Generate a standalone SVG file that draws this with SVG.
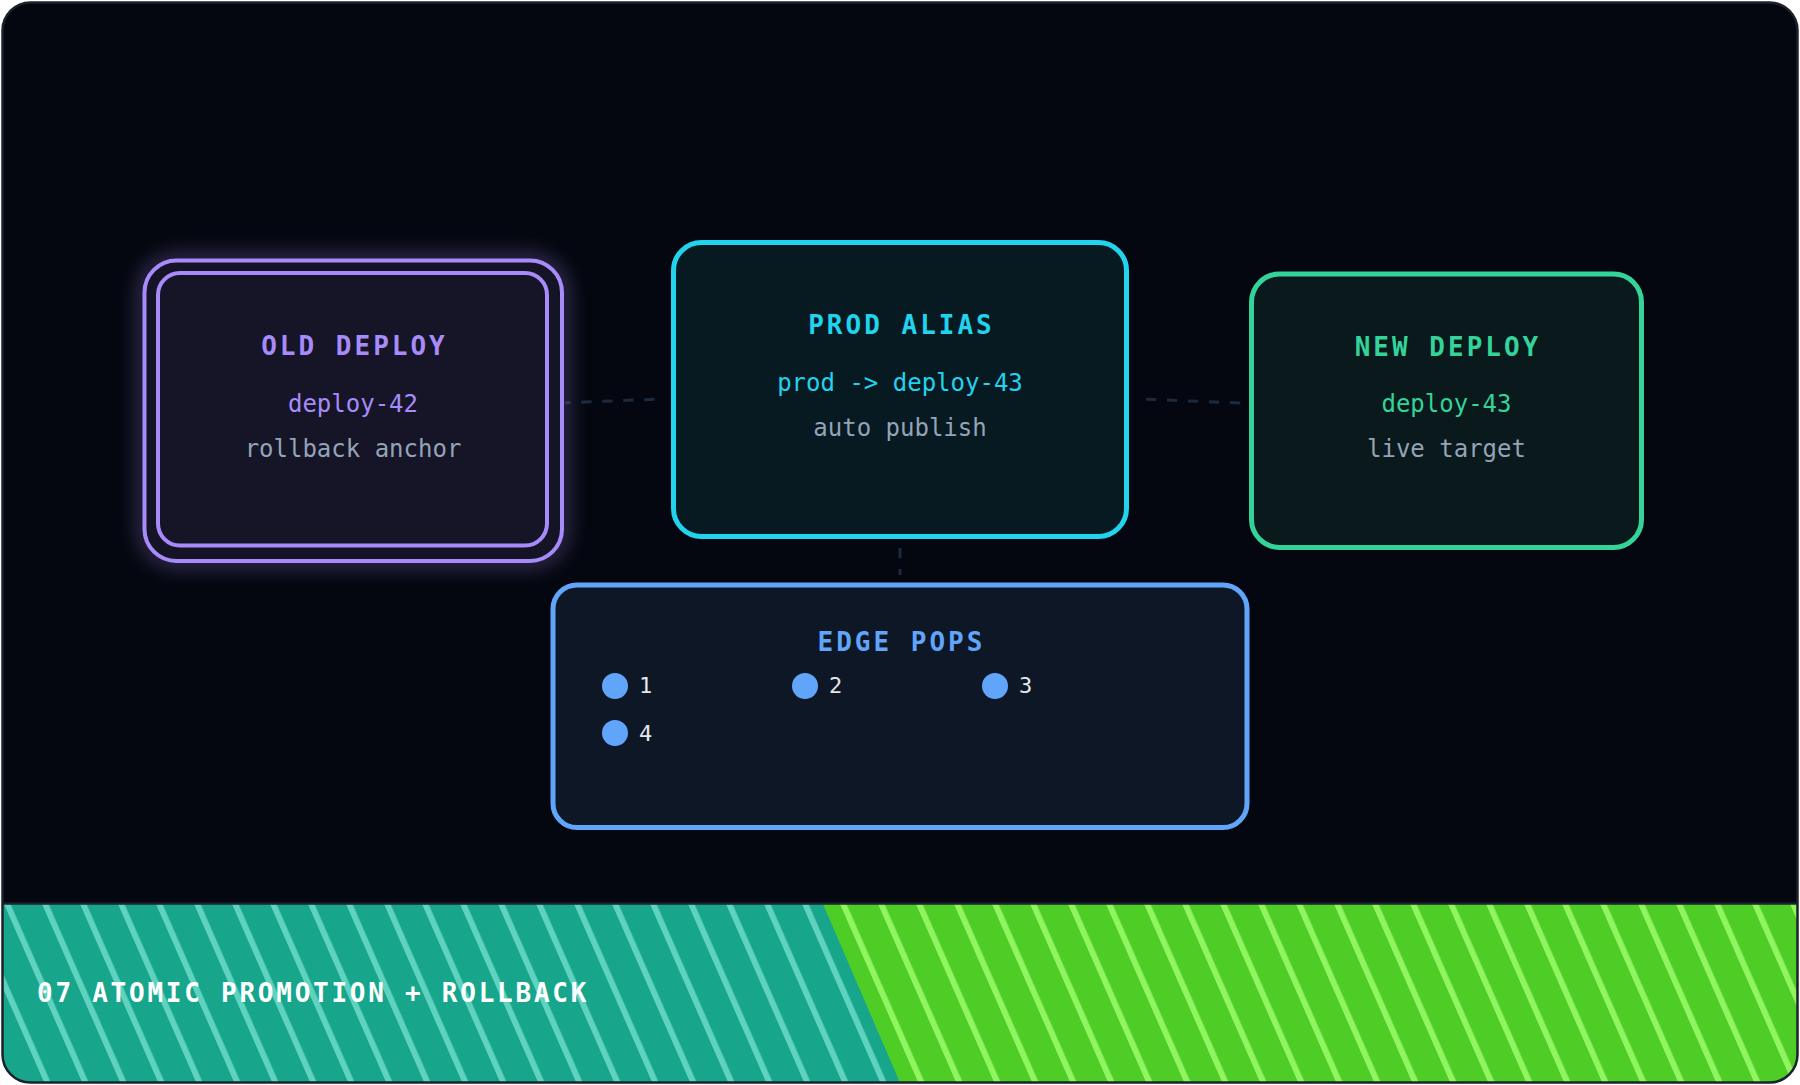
<svg xmlns="http://www.w3.org/2000/svg" width="1800" height="1085" viewBox="0 0 1800 1085">
  <style>
    .title { font-family: "DejaVu Sans Mono", "Liberation Mono", monospace; font-size: 26px; font-weight: bold; letter-spacing: 3px; text-anchor: middle; }
    .sub { font-family: "DejaVu Sans Mono", "Liberation Mono", monospace; font-size: 24px; text-anchor: middle; }
    .muted { fill: #94a3b8; }
    .pop { font-family: "DejaVu Sans Mono", "Liberation Mono", monospace; font-size: 22px; fill: #e5e7eb; }
    .dot { fill: #60a5fa; }
    .conn { stroke: #1b2a3e; stroke-width: 3; stroke-dasharray: 10.3 10.7; fill: none; }
    .banner { font-family: "DejaVu Sans Mono", "Liberation Mono", monospace; font-size: 26px; font-weight: bold; letter-spacing: 2.75px; fill: #ffffff; }
  </style>
  <defs>
    <clipPath id="frameClip">
      <rect x="2.5" y="2.5" width="1795" height="1080" rx="28"/>
    </clipPath>
    <pattern id="stripesTeal" patternUnits="userSpaceOnUse" width="38" height="200" patternTransform="translate(0,904) skewX(23.66)">
      <rect x="0" y="0" width="38" height="200" fill="#17a68c"/>
      <rect x="4" y="0" width="6.5" height="200" fill="#5fd3bf"/>
    </pattern>
    <pattern id="stripesGreen" patternUnits="userSpaceOnUse" width="38" height="200" patternTransform="translate(0,904) skewX(23.66)">
      <rect x="0" y="0" width="38" height="200" fill="#4fcd27"/>
      <rect x="4" y="0" width="6.5" height="200" fill="#90f560"/>
    </pattern>
    <filter id="glow" x="-20%" y="-20%" width="140%" height="140%">
      <feGaussianBlur stdDeviation="10"/>
    </filter>
  </defs>

  <!-- frame -->
  <rect x="2.5" y="2.5" width="1795" height="1080" rx="28" fill="#04070f"/>

  <!-- connectors -->
  <g id="connectors">
    <line class="conn" x1="654.5" y1="399.3" x2="565" y2="402.8"/>
    <line class="conn" x1="1146" y1="399.2" x2="1241" y2="403"/>
    <line class="conn" x1="900" y1="548" x2="900" y2="575"/>
  </g>

  <!-- old deploy -->
  <g id="old-deploy">
    <rect x="144.5" y="260.5" width="417.5" height="300.5" rx="32" fill="none" stroke="#a78bfa" stroke-width="10" opacity="0.45" filter="url(#glow)"/>
    <rect x="144.5" y="260.5" width="417.5" height="300.5" rx="32" fill="#151426" stroke="#a78bfa" stroke-width="4"/>
    <rect x="158" y="273" width="389" height="272.5" rx="22" fill="#161527" stroke="#a78bfa" stroke-width="4"/>
    <text class="title" x="354.5" y="355" fill="#a78bfa">OLD DEPLOY</text>
    <text class="sub" x="353" y="412" fill="#a78bfa">deploy-42</text>
    <text class="sub muted" x="353" y="457">rollback anchor</text>
  </g>

  <!-- prod alias -->
  <g id="prod-alias">
    <rect x="673.5" y="242.5" width="453" height="294" rx="28" fill="#071a22" stroke="#22d3ee" stroke-width="5"/>
    <text class="title" x="901.5" y="334" fill="#22d3ee">PROD ALIAS</text>
    <text class="sub" x="900" y="391" fill="#22d3ee">prod -&gt; deploy-43</text>
    <text class="sub muted" x="900" y="436">auto publish</text>
  </g>

  <!-- new deploy -->
  <g id="new-deploy">
    <rect x="1251.5" y="274" width="390" height="273.5" rx="28" fill="#0a191b" stroke="#34d399" stroke-width="5"/>
    <text class="title" x="1448" y="356" fill="#34d399">NEW DEPLOY</text>
    <text class="sub" x="1446.5" y="412" fill="#34d399">deploy-43</text>
    <text class="sub muted" x="1446.5" y="457">live target</text>
  </g>

  <!-- edge pops -->
  <g id="edge-pops">
    <rect x="553" y="585" width="694" height="242.5" rx="24" fill="#0e1726" stroke="#60a5fa" stroke-width="5"/>
    <text class="title" x="901.5" y="651" fill="#60a5fa">EDGE POPS</text>
    <circle class="dot" cx="615" cy="686" r="13"/>
    <text class="pop" x="639" y="693">1</text>
    <circle class="dot" cx="805" cy="686" r="13"/>
    <text class="pop" x="829" y="693">2</text>
    <circle class="dot" cx="995" cy="686" r="13"/>
    <text class="pop" x="1019" y="693">3</text>
    <circle class="dot" cx="615" cy="733" r="13"/>
    <text class="pop" x="639" y="741">4</text>
  </g>

  <!-- banner -->
  <g id="banner" clip-path="url(#frameClip)">
    <rect x="0" y="904" width="1800" height="181" fill="url(#stripesGreen)"/>
    <polygon points="0,904 823,904 901,1085 0,1085" fill="url(#stripesTeal)"/>
    <line x1="0" y1="903.5" x2="1800" y2="903.5" stroke="#1b222c" stroke-width="2.5"/>
    <text class="banner" x="37" y="1002">07 ATOMIC PROMOTION + ROLLBACK</text>
  </g>

  <rect x="2.5" y="2.5" width="1795" height="1080" rx="28" fill="none" stroke="#1c222d" stroke-width="2.5"/>
</svg>
